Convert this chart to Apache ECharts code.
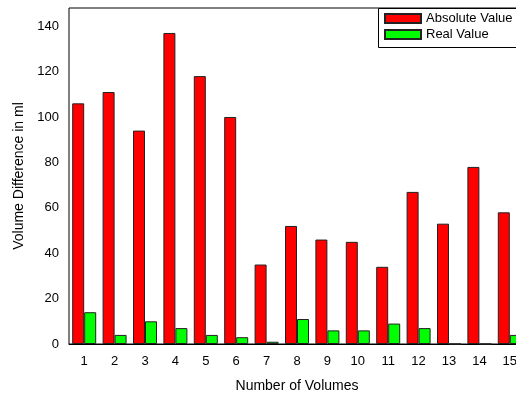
<!DOCTYPE html>
<html>
<head>
<meta charset="utf-8">
<script src="https://cdn.jsdelivr.net/npm/echarts@6/dist/echarts.min.js"></script>
<style>
  html, body { margin: 0; padding: 0; background: #fff; overflow: hidden; }
  /* drawing surface is a little wider than the window so the right frame sits past its edge */
  #chart { width: 540px; height: 395px; }
</style>
</head>
<body>
<div id="chart"></div>
<script>
// Volume differences per measured volume
const categories = ['1','2','3','4','5','6','7','8','9','10','11','12','13','14','15'];
const absoluteValues = [106, 111, 94, 137, 118, 100, 35, 52, 46, 45, 34, 67, 53, 78, 58];
const realValues = [14, 4, 10, 7, 4, 3, 1, 11, 6, 6, 9, 7, 0, 0, 4];
const yTicks = [0, 20, 40, 60, 80, 100, 120, 140];
const yMinorTicks = [10, 30, 50, 70, 90, 110, 130];

const FONT = '"Liberation Sans", Arial, sans-serif';
const chart = echarts.init(document.getElementById('chart'), null, { renderer: 'canvas' });

const axisCommon = {
  axisLine: { lineStyle: { color: '#000', width: 1 } },
  splitLine: { show: false }
};

chart.setOption({
  animation: false,
  backgroundColor: '#fff',
  grid: {
    left: 69, top: 8, width: 456, height: 336,
    outerBoundsMode: 'none',
    containLabel: false,
    show: true, borderColor: '#000', borderWidth: 1
  },
  legend: {
    orient: 'vertical',
    left: 384, top: 12,
    padding: 0,
    itemWidth: 36, itemHeight: 9, itemGap: 3,
    textStyle: { fontFamily: FONT, fontSize: 13, color: '#000' },
    data: [
      { name: 'Absolute Value', icon: 'rect' },
      { name: 'Real Value', icon: 'rect' }
    ]
  },
  graphic: [{
    type: 'rect', left: 378, top: 8, z: 0,
    shape: { width: 160, height: 39 },
    style: { fill: '#fff', stroke: '#000', lineWidth: 1 }
  }],
  xAxis: [{
    ...axisCommon,
    type: 'category',
    data: categories,
    boundaryGap: true,
    name: 'Number of Volumes',
    nameLocation: 'middle',
    nameGap: 35,
    nameTextStyle: { fontFamily: FONT, fontSize: 14, color: '#000' },
    axisTick: { alignWithLabel: true, length: 5, lineStyle: { color: '#000' } },
    axisLabel: { fontFamily: FONT, fontSize: 13, color: '#000', margin: 11 }
  }, {
    // inward ticks on the category boundaries
    ...axisCommon,
    type: 'category',
    data: categories,
    position: 'bottom',
    gridIndex: 0,
    axisLine: { show: false },
    axisTick: { inside: true, length: 3, lineStyle: { color: '#000' } },
    axisLabel: { show: false }
  }],
  yAxis: [{
    ...axisCommon,
    type: 'value',
    min: 0, max: 148,
    name: 'Volume Difference in ml',
    nameLocation: 'middle',
    nameGap: 42,
    nameTextStyle: { fontFamily: FONT, fontSize: 14, color: '#000' },
    axisTick: { length: 5, lineStyle: { color: '#000' }, customValues: yTicks },
    axisLabel: { fontFamily: FONT, fontSize: 13, color: '#000', margin: 10, customValues: yTicks }
  }, {
    ...axisCommon,
    type: 'value',
    min: 0, max: 148,
    position: 'left',
    axisLine: { show: false },
    axisTick: { length: 3, lineStyle: { color: '#000' }, customValues: yMinorTicks },
    axisLabel: { show: false, customValues: yMinorTicks }
  }],
  series: [{
    name: 'Absolute Value',
    type: 'bar',
    data: absoluteValues,
    barWidth: 12,
    barGap: '0%',
    itemStyle: { color: '#ff0000', borderColor: '#222', borderWidth: 1 }
  }, {
    name: 'Real Value',
    type: 'bar',
    data: realValues,
    barWidth: 12,
    barGap: '0%',
    itemStyle: { color: '#00ff00', borderColor: '#222', borderWidth: 1 }
  }]
});
</script>
</body>
</html>
